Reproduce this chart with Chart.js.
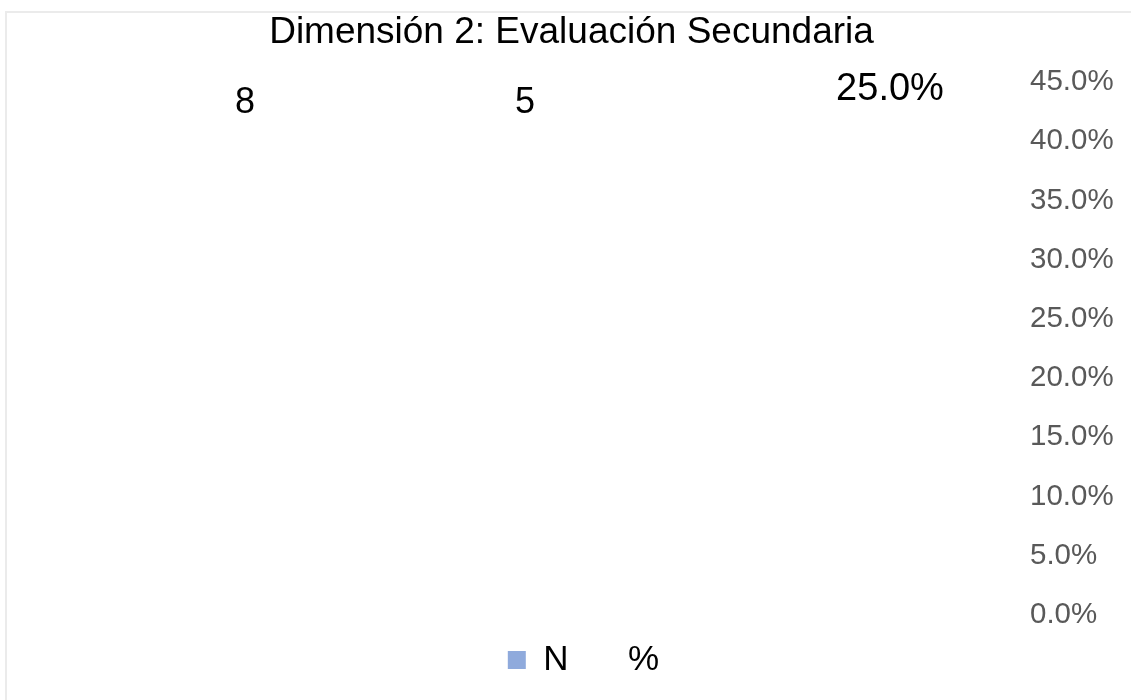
<!DOCTYPE html>
<html>
<head>
<meta charset="utf-8">
<script src="https://cdn.jsdelivr.net/npm/chart.js@4.4.0/dist/chart.umd.min.js"></script>
<style>
  html, body { margin: 0; padding: 0; background: #ffffff; }
  #wrap { position: relative; width: 1131px; height: 700px; }
  #frame { position: absolute; left: 5px; top: 11px; right: 0; bottom: 0;
           border-top: 2px solid #ebebeb; border-left: 2px solid #ebebeb; pointer-events: none; }
  canvas { position: absolute; left: 0; top: 0; }
</style>
</head>
<body>
<div id="wrap">
  <canvas id="c" width="1131" height="700"></canvas>
  <div id="frame"></div>
</div>
<script>
// ---- data ----
const titleText = "Dimensión 2: Evaluación Secundaria";
const categories = ["1", "2", "3"];
const seriesNames = ["N", "%"];
const valuesN = [8, 5, null];
const valuesPct = [null, null, 0.25];
const pctTicks = [0, 0.05, 0.10, 0.15, 0.20, 0.25, 0.30, 0.35, 0.40, 0.45];

const fmtPct = v => (v * 100).toFixed(1) + "%";
const FONT = "'Liberation Sans', Arial, sans-serif";

const topLabels = {
  id: "topLabels",
  afterDatasetsDraw(chart) {
    const ctx = chart.ctx;
    const area = chart.chartArea;
    ctx.save();
    ctx.textAlign = "center";
    ctx.textBaseline = "middle";
    ctx.fillStyle = "#000000";
    chart.data.datasets.forEach((ds, di) => {
      const meta = chart.getDatasetMeta(di);
      meta.data.forEach((el, i) => {
        const v = ds.data[i];
        if (v === null || v === undefined) return;
        const isPct = ds.label === "%";
        ctx.font = (isPct ? "38px " : "36px ") + FONT;
        const y = area.top + (isPct ? 8 : 21);
        ctx.fillText(isPct ? fmtPct(v) : String(v), el.x, y);
      });
    });
    ctx.restore();
  }
};

const legendShift = {
  id: "legendShift",
  afterLayout(chart) {
    const l = chart.legend;
    if (!l) return;
    l.left += 12; l.right += 12;
    l.top += 3.5; l.bottom += 3.5;
  }
};

new Chart(document.getElementById("c"), {
  type: "bar",
  data: {
    labels: categories,
    datasets: [
      { label: seriesNames[0], data: valuesN, yAxisID: "yN",
        backgroundColor: "rgba(143,170,220,0)", borderWidth: 0 },
      { label: seriesNames[1], data: valuesPct, yAxisID: "y",
        backgroundColor: "rgba(255,255,255,0)", borderWidth: 0 }
    ]
  },
  options: {
    responsive: false,
    animation: false,
    categoryPercentage: 0.607,
    barPercentage: 1,
    layout: { padding: { left: 12, right: 0, top: 0, bottom: 16 } },
    plugins: {
      title: {
        display: true, text: titleText, color: "#000000",
        font: { family: FONT, size: 37, weight: "normal" },
        padding: { top: 11, bottom: 26.6 }
      },
      legend: {
        display: true, position: "bottom",
        labels: {
          color: "#000000",
          font: { family: FONT, size: 35 },
          boxWidth: 18, boxHeight: 18, padding: 24,
          generateLabels(chart) {
            const cols = ["#8FAADC", "rgba(255,255,255,0)"];
            return chart.data.datasets.map((ds, i) => ({
              text: ds.label, fillStyle: cols[i], strokeStyle: cols[i],
              lineWidth: 0, hidden: false, datasetIndex: i, fontColor: "#000000"
            }));
          }
        }
      },
      tooltip: { enabled: false }
    },
    scales: {
      x: { display: false, offset: true },
      yN: {
        display: true, position: "left", min: 0, max: 45,
        grid: { display: false, drawTicks: false },
        border: { display: false },
        ticks: { display: false },
        afterFit(scale) { scale.width = 135.5; }
      },
      y: {
        position: "right", min: 0, max: 0.45,
        afterBuildTicks(scale) { scale.ticks = pctTicks.map(v => ({ value: v })); },
        afterFit(scale) { scale.width = 143.5; },
        grid: { display: false, drawTicks: false },
        border: { display: false },
        ticks: {
          color: "#595959", padding: 42.5,
          font: { family: FONT, size: 29.5 },
          callback: v => fmtPct(v)
        }
      }
    }
  },
  plugins: [topLabels, legendShift]
});
</script>
</body>
</html>
